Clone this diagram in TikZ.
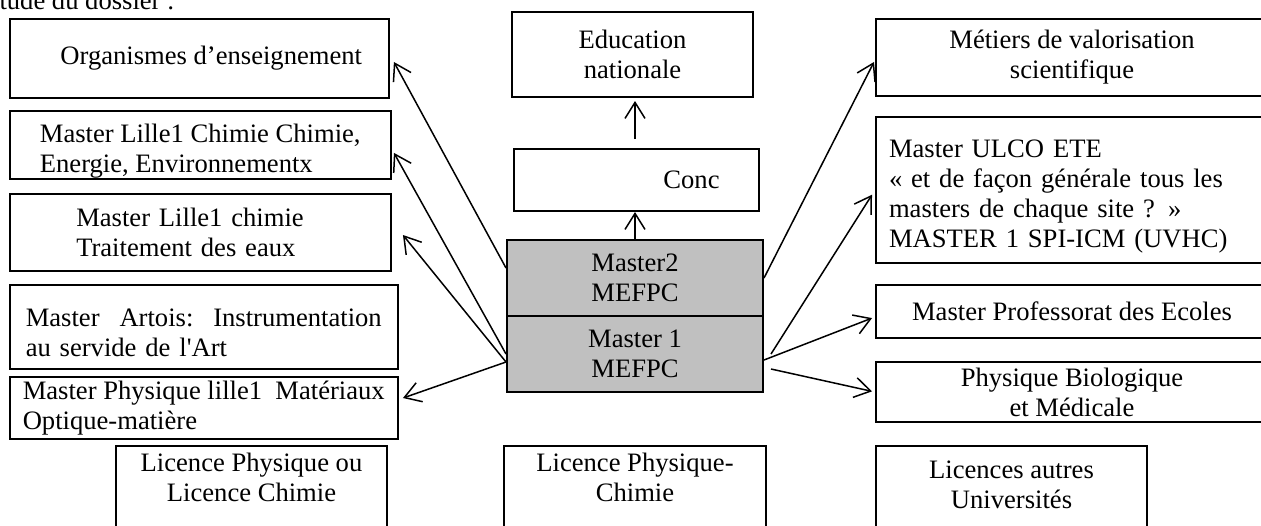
\documentclass[tikz,border=0pt]{standalone}
\usepackage{fontspec}
\setmainfont{Liberation Serif}[Ligatures=TeXOff]
\usetikzlibrary{arrows.meta}
\definecolor{gris}{HTML}{C0C0C0}
\tikzset{
    boite/.style 2 args={draw, line width=1pt, minimum width=#1*\px, minimum height=#2*\px,
        inner sep=0.5pt, align=center},
    fleche/.style={-{Straight Barb[length=8pt,width=10pt]}, line width=0.75pt},
}
\begin{document}
\begin{tikzpicture}[x=0.5pt, y=-0.5pt, font=\fontsize{13.3}{15}\selectfont]
    \def \px {0.5pt}
    \useasboundingbox (0,0) rectangle (1261,525);
    \node[anchor=base east, inner sep=0pt] (titre) at (175,9) {étude du dossier :};
    % gauche
    \node[boite={379.5}{79}] (org) at (199.25,58.5) {\hspace*{12pt}Organismes d’enseignement};
    \node[boite={381.5}{68}, align=left] (cee) at (200.25,145) {\mbox{}\\Master Lille1 Chimie Chimie,\\Energie, Environnementx};
    \node[boite={381.5}{77}, text width=124pt, align=left] (lte) at (200.25,232.5) {Master Lille1 chimie\\Traitement des eaux};
    \node[boite={388.5}{84}, text width=178pt, align=left] (art) at (203.75,327) {\mbox{}\\Master\hfill Artois:\hfill Instrumentation\\au servide de l'Art};
    \node[boite={388.5}{62}, align=left] (phy) at (203.75,408) {Master Physique lille1~~Matériaux\\Optique-matière};
    \node[boite={271}{92}] (licA) at (251.5,492) {Licence Physique ou\\Licence Chimie\\\mbox{}};
    % milieu
    \node[boite={241}{85}] (edu) at (632.5,54.5) {Education\\nationale};
    \node[boite={245}{62}] (conc) at (636.5,180) {\hspace*{55pt}Conc};
    \node[boite={256}{76}, fill=gris] (m2) at (635,278) {Master2\\MEFPC};
    \node[boite={256}{76}, fill=gris] (m1) at (635,354) {Master 1\\MEFPC};
    \node[boite={262}{92}] (licB) at (635,492) {Licence Physique-\\Chimie\\\mbox{}};
    % droite
    \node[boite={392}{77}] (met) at (1072,57.5) {Métiers de valorisation\\scientifique};
    \node[boite={392}{146}, text width=183pt, align=left] (ulco) at (1072,190) {\mbox{}\\Master ULCO ETE\\« et de façon générale tous les\\masters de chaque site ? »\\MASTER 1 SPI-ICM (UVHC)};
    \node[boite={392}{53}] (prof) at (1072,311.5) {Master Professorat des Ecoles};
    \node[boite={392}{60}] (bio) at (1072,392) {Physique Biologique\\et Médicale};
    \node[boite={271}{108}] (licC) at (1011.5,500) {Licences autres\\Universités\\\mbox{}};
    % fleches
    \draw[fleche] (m2.north) -- (m2.north |- conc.south);
    \draw[fleche, shorten <=4.5pt, shorten >=1.5pt] (m2.north |- conc.north) -- (m2.north |- edu.south);
    \draw[fleche, shorten >=4.1pt] ([yshift=5pt]m2.west) -- ([yshift=1.85pt]org.east);
    \draw[fleche, shorten >=2pt] (m1.west) -- ([yshift=-2.2pt]cee.east);
    \draw[fleche, shorten >=8.7pt] ([yshift=-4pt]m1.west) -- ([yshift=5.5pt]lte.east);
    \draw[fleche, shorten >=2.1pt] ([yshift=-4pt]m1.west) -- ([yshift=4.3pt]phy.east);
    \draw[fleche, shorten >=1.1pt] (m2.east) -- ([yshift=-1.25pt]met.west);
    \draw[fleche, shorten >=2.8pt] ([xshift=3.5pt]m1.east) -- (ulco.west);
    \draw[fleche, shorten >=1.6pt] ([yshift=-3pt]m1.east) -- ([yshift=-2.7pt]prof.west);
    \draw[fleche, shorten >=1.5pt] ([xshift=3.5pt,yshift=-7.5pt]m1.east) -- (bio.west);
\end{tikzpicture}
\end{document}
